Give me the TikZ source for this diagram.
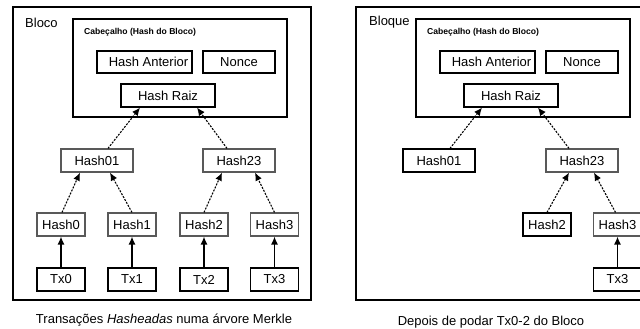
\documentclass[tikz,border=0pt]{standalone}
\usepackage{fontspec}
\setmainfont{Liberation Sans}
\usetikzlibrary{arrows.meta}
\begin{document}
\begin{tikzpicture}[x=1pt,y=-1pt,
  box/.style={draw=black,line width=1.2pt,inner sep=0pt,font=\fontsize{13}{15}\selectfont},
  gbox/.style={box,draw=black!65},
  frame/.style={draw=black,line width=1.3pt,inner sep=0pt},
  lbl/.style={font=\fontsize{13}{15}\selectfont,inner sep=0pt},
  small/.style={font=\bfseries\fontsize{8.6}{10}\selectfont,inner sep=0pt},
  darr/.style={-{Latex[length=8pt,width=7pt]},line width=1.1pt,dash pattern=on 2pt off 1.3pt},
  sarr/.style={-{Latex[length=8pt,width=7pt]},line width=1.3pt}]
\useasboundingbox (0,0) rectangle (640,329);
\clip (0,0) rectangle (640,329);
% ---------------- left panel ----------------
\node[frame,minimum width=298,minimum height=293] (outerL) at (162,153.5) {};
\node[lbl,anchor=west] (blocoL) at (25,22.5) {Bloco};
\node[frame,line width=1.2pt,minimum width=214,minimum height=98] (headL) at (180,68) {};
\node[small,anchor=west] (cabL) at (84,32) {Cabeçalho (Hash do Bloco)};
\node[box,minimum width=95,minimum height=22] (antL) at (144.5,62) {\hspace*{8pt}Hash Anterior};
\node[box,minimum width=72,minimum height=22] (nonceL) at (239,62) {Nonce};
\node[box,minimum width=94,minimum height=23] (raizL) at (168,95.5) {Hash Raiz};
\node[gbox,minimum width=72,minimum height=23] (h01L) at (97,160.5) {Hash01};
\node[gbox,minimum width=72,minimum height=23] (h23L) at (239,160.5) {Hash23};
\node[gbox,minimum width=48,minimum height=23] (h0L) at (61,224.5) {Hash0};
\node[gbox,minimum width=48,minimum height=23] (h1L) at (132,224.5) {Hash1};
\node[gbox,minimum width=48,minimum height=23] (h2L) at (204,224.5) {Hash2};
\node[gbox,minimum width=48,minimum height=23] (h3L) at (274.5,224.5) {Hash3};
\node[box,minimum width=48,minimum height=23] (tx0L) at (61,279.5) {Tx0};
\node[box,minimum width=48,minimum height=23] (tx1L) at (132,279.5) {Tx1};
\node[box,minimum width=48,minimum height=23] (tx2L) at (204,279.5) {Tx2};
\node[box,minimum width=48,minimum height=23] (tx3L) at (274.5,279.5) {Tx3};
\node[lbl] (capL) at (164,320) {Transações \textit{Hasheadas} numa árvore Merkle};
\draw[darr] ([xshift=11pt]h01L.north) -- ([xshift=-28pt]raizL.south);
\draw[darr] ([xshift=-12pt]h23L.north) -- ([xshift=29pt]raizL.south);
\draw[darr] ([xshift=1pt]h0L.north) -- ([xshift=-17pt]h01L.south);
\draw[darr] (h1L.north) -- ([xshift=13pt]h01L.south);
\draw[darr] (h2L.north) -- ([xshift=-17pt]h23L.south);
\draw[darr] (h3L.north) -- ([xshift=16pt]h23L.south);
\draw[sarr] (tx0L) -- (h0L);
\draw[sarr] (tx1L) -- (h1L);
\draw[sarr] (tx2L) -- (h2L);
\draw[sarr] (tx3L) -- (h3L);
% ---------------- right panel ----------------
\node[frame,minimum width=298,minimum height=293] (outerR) at (505,153.5) {};
\node[lbl,anchor=west] (blocoR) at (369,22.5) {Bloque};
\node[frame,line width=1.2pt,minimum width=214,minimum height=98] (headR) at (523,68) {};
\node[small,anchor=west] (cabR) at (427,32) {Cabeçalho (Hash do Bloco)};
\node[box,minimum width=95,minimum height=22] (antR) at (487.5,62) {\hspace*{8pt}Hash Anterior};
\node[box,minimum width=72,minimum height=22] (nonceR) at (582,62) {Nonce};
\node[box,minimum width=94,minimum height=23] (raizR) at (511,95.5) {Hash Raiz};
\node[box,minimum width=72,minimum height=23] (h01R) at (439,160.5) {Hash01};
\node[gbox,minimum width=72,minimum height=23] (h23R) at (582,160.5) {Hash23};
\node[box,minimum width=48,minimum height=23] (h2R) at (547,224.5) {Hash2};
\node[gbox,minimum width=48,minimum height=23] (h3R) at (617.5,224.5) {Hash3};
\node[box,minimum width=48,minimum height=23] (tx3R) at (617.5,279.5) {Tx3};
\node[lbl] (capR) at (491,322) {Depois de podar Tx0-2 do Bloco};
\draw[darr] ([xshift=11pt]h01R.north) -- ([xshift=-29pt]raizR.south);
\draw[darr] ([xshift=-13pt]h23R.north) -- ([xshift=27pt]raizR.south);
\draw[darr] (h2R.north) -- ([xshift=-13pt]h23R.south);
\draw[darr] ([xshift=-2pt]h3R.north) -- ([xshift=12pt]h23R.south);
\draw[sarr] (tx3R) -- (h3R);
\end{tikzpicture}
\end{document}
